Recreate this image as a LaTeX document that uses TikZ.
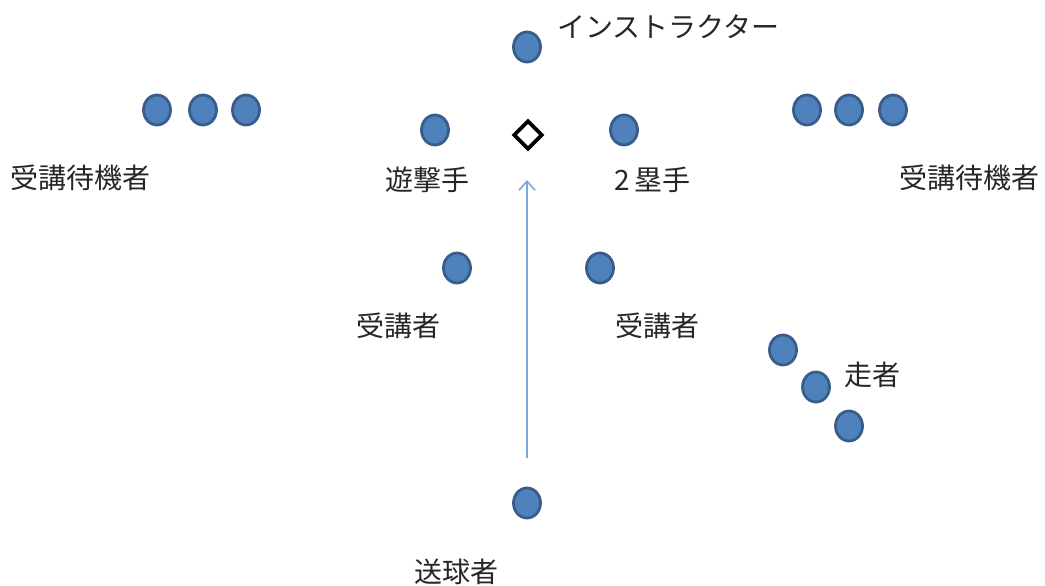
\documentclass[tikz,border=0pt]{standalone}
\usepackage{fontspec}
\setmainfont{Noto Sans CJK JP}
\usetikzlibrary{arrows.meta,shapes.geometric}
\definecolor{pfill}{HTML}{4F81BD}
\definecolor{pline}{HTML}{385D8A}
\definecolor{arr}{HTML}{7FA6DA}
\tikzset{
  player/.style={ellipse, draw=pline, fill=pfill, line width=2.8pt, minimum width=27pt, minimum height=30pt, inner sep=0pt},
  lbl/.style={font=\fontsize{28}{30}\selectfont, inner sep=0pt, text=black!85},
}
\begin{document}
\begin{tikzpicture}[x=1pt,y=-1pt]
\useasboundingbox (0,0) rectangle (1045,586);
% players
\node[player] (ins) at (527,47) {};
\node[player] (w1) at (157,110) {};
\node[player] (w2) at (203,110) {};
\node[player] (w3) at (246,110) {};
\node[player] (w4) at (807,110) {};
\node[player] (w5) at (849,110) {};
\node[player] (w6) at (893,110) {};
\node[player] (ss) at (435,130) {};
\node[player] (sb) at (624,130) {};
\node[player] (r1) at (457,268) {};
\node[player] (r2) at (600,268) {};
\node[player] (run1) at (783,350) {};
\node[player] (run2) at (816,387) {};
\node[player] (run3) at (849,426) {};
\node[player] (thr) at (527,503) {};
% base
\node[diamond, draw=black, line width=3.8pt, minimum width=29pt, minimum height=29pt, inner sep=0pt] (base) at (528,135) {};
% labels
\node[lbl, anchor=west] (tins) at (557,27) {インストラクター};
\node[lbl, anchor=west] (tw1) at (10,178) {受講待機者};
\node[lbl, anchor=west] (tw2) at (899,178) {受講待機者};
\node[lbl] (tss) at (427,180) {遊撃手};
\node[lbl, anchor=west] (tsb) at (614,180) {2\,塁手};
\node[lbl] (tr1) at (398,326) {受講者};
\node[lbl] (tr2) at (657,326) {受講者};
\node[lbl, anchor=west] (trun) at (844,375) {走者};
\node[lbl] (tthr) at (456,572) {送球者};
% arrow
\coordinate (a0) at (527,458);
\coordinate (a1) at (527,180);
\draw[arr, line width=1.6pt, -{Straight Barb[length=9pt,width=16pt,line width=1.6pt]}] (a0) -- (a1);
\end{tikzpicture}
\end{document}
